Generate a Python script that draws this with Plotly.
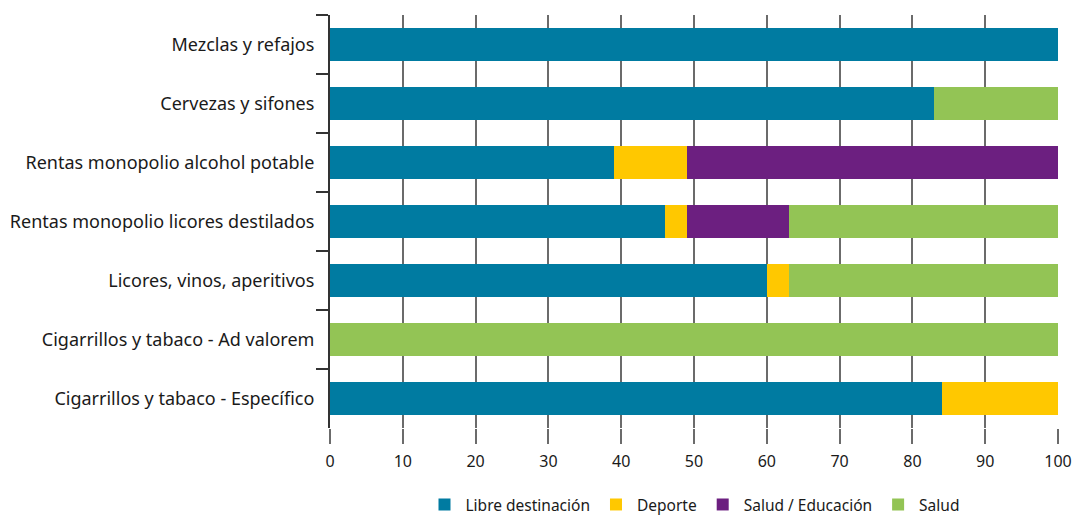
import plotly.graph_objects as go

categories = [
    "Mezclas y refajos",
    "Cervezas y sifones",
    "Rentas monopolio alcohol potable",
    "Rentas monopolio licores destilados",
    "Licores, vinos, aperitivos",
    "Cigarrillos y tabaco - Ad valorem",
    "Cigarrillos y tabaco - Específico",
]

libre_destinacion = [100, 83, 39, 46, 60, 0, 84]
deporte = [0, 0, 10, 3, 3, 0, 16]
salud_educacion = [0, 0, 51, 14, 0, 0, 0]
salud = [0, 17, 0, 37, 37, 100, 0]

series = [
    ("Libre destinación", libre_destinacion, "#007BA1"),
    ("Deporte", deporte, "#FFC800"),
    ("Salud / Educación", salud_educacion, "#6C1F80"),
    ("Salud", salud, "#93C455"),
]

x_ticks = [0, 10, 20, 30, 40, 50, 60, 70, 80, 90, 100]

fig = go.Figure()
for name, values, color in series:
    fig.add_trace(go.Bar(
        y=categories,
        x=values,
        name=name,
        orientation="h",
        marker=dict(color=color, line=dict(width=0)),
    ))

fig.update_layout(
    barmode="stack",
    bargap=0.44,
    width=1074,
    height=515,
    margin=dict(l=330, r=16, t=15, b=87, autoexpand=False),
    paper_bgcolor="white",
    plot_bgcolor="white",
    font=dict(family="Noto Sans", color="#1a1a1a"),
    showlegend=True,
    legend=dict(
        orientation="h",
        x=0.5,
        xanchor="center",
        y=-0.145,
        yanchor="top",
        font=dict(size=15.5, color="#1a1a1a"),
        traceorder="normal",
        itemwidth=32,
    ),
    xaxis=dict(
        range=[0, 100],
        tickvals=x_ticks,
        ticktext=[str(v) for v in x_ticks],
        showgrid=True,
        gridcolor="#6b6b6b",
        gridwidth=2,
        zeroline=False,
        showline=False,
        ticks="outside",
        ticklen=15,
        tickwidth=2,
        tickcolor="#6b6b6b",
        ticklabelstandoff=4,
        ticklabeloverflow="allow",
        automargin=False,
        tickfont=dict(size=16, color="#1a1a1a"),
        fixedrange=True,
    ),
    yaxis=dict(
        categoryorder="array",
        categoryarray=categories,
        autorange="reversed",
        showline=True,
        linecolor="#333333",
        linewidth=2,
        ticks="outside",
        tickson="boundaries",
        ticklen=12,
        tickwidth=2,
        tickcolor="#333333",
        ticklabelstandoff=10,
        automargin=False,
        showgrid=False,
        tickfont=dict(size=18, color="#1a1a1a"),
        fixedrange=True,
    ),
)

fig.write_html("out.html")
